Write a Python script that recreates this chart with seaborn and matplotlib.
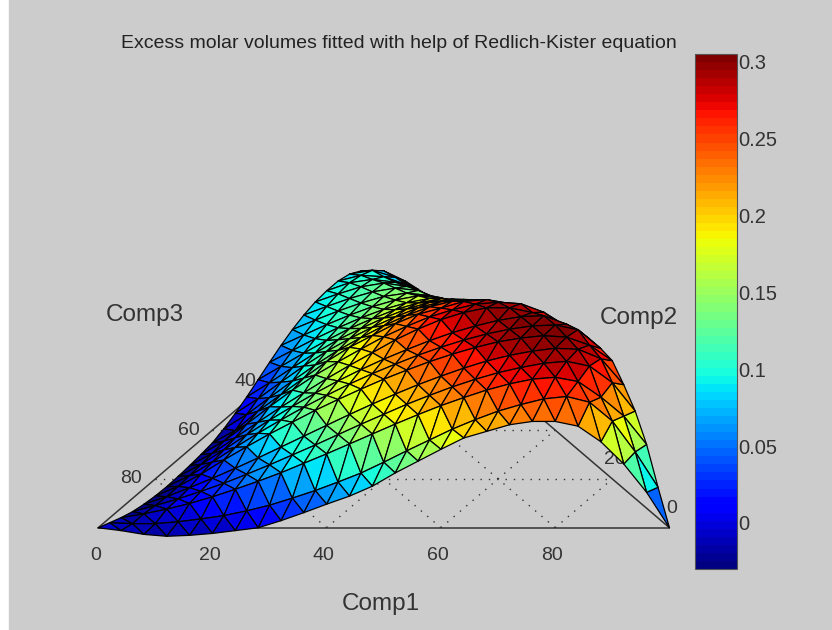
import numpy as np
import seaborn as sns
import matplotlib
matplotlib.use("Agg")
import matplotlib.pyplot as plt
from matplotlib.colors import Normalize
from matplotlib.cm import ScalarMappable
from matplotlib.patches import Rectangle
from matplotlib.tri import Triangulation
from mpl_toolkits.mplot3d import proj3d

# excess molar volume at each mesh node, one row per 4 % of Comp2,
# running along Comp1 from 0 in 4 % steps
rows = [
    [0, -.006, -.014, -.018, -.016, -.012, -.006, 0, .015, .032, .05, .067, .088, .116, .141, .166, .19, .204, .218, .225, .225, .215, .182, .135, .075, 0],
    [-.01, -.012, -.012, -.008, -.002, .005, .015, .027, .042, .058, .076, .095, .118, .142, .165, .188, .208, .226, .24, .252, .257, .245, .205, .14, .065],
    [-.02, -.012, -.002, .01, .024, .04, .057, .075, .095, .115, .136, .157, .178, .198, .217, .234, .25, .263, .273, .277, .268, .235, .195, .135],
    [-.028, -.015, -.001, .015, .032, .051, .071, .092, .113, .135, .157, .178, .199, .218, .236, .252, .266, .277, .286, .29, .28, .245, .185],
    [-.033, -.017, .002, .022, .043, .065, .088, .111, .134, .157, .179, .2, .22, .238, .255, .27, .282, .291, .297, .295, .275, .22],
    [-.036, -.016, .01, .04, .068, .095, .12, .145, .168, .19, .211, .23, .248, .264, .278, .29, .298, .303, .3, .283, .25],
    [-.037, -.014, .015, .046, .076, .104, .131, .156, .18, .202, .222, .241, .258, .273, .286, .296, .303, .305, .295, .255],
    [-.036, -.011, .02, .052, .083, .112, .14, .166, .19, .212, .232, .251, .268, .282, .294, .302, .304, .286, .255],
    [-.034, -.008, .025, .058, .09, .12, .15, .178, .205, .232, .255, .275, .29, .3, .3, .29, .272, .25],
    [-.031, -.003, .033, .07, .105, .137, .165, .192, .218, .24, .26, .275, .287, .291, .288, .27, .24],
    [-.027, -.001, .04, .075, .11, .145, .175, .2, .225, .245, .258, .272, .276, .268, .25, .225],
    [-.018, .012, .048, .083, .117, .148, .175, .2, .222, .24, .252, .255, .248, .23, .205],
    [-.006, .025, .06, .094, .125, .152, .176, .198, .217, .23, .235, .228, .21, .185],
    [.008, .038, .07, .101, .129, .153, .175, .194, .208, .215, .208, .19, .165],
    [.024, .052, .08, .107, .132, .153, .172, .186, .195, .19, .172, .145],
    [.04, .065, .09, .113, .134, .152, .166, .175, .17, .152, .125],
    [.055, .077, .099, .119, .137, .151, .16, .156, .137, .108],
    [.068, .088, .107, .124, .138, .145, .14, .122, .092],
    [.078, .096, .113, .127, .135, .13, .11, .08],
    [.085, .102, .117, .125, .118, .098, .07],
    [.088, .105, .112, .106, .087, .06],
    [.088, .1, .097, .08, .055],
    [.082, .09, .075, .05],
    [.068, .068, .045],
    [.04, .03],
    [0],
]
grid_levels = [20, 40, 60, 80]
comp1_ticks = ["0", "20", "40", "60", "80"]
comp2_ticks = ["0", "20"]
comp3_ticks = ["80", "60", "40"]
cbar_ticks = [0, 0.05, 0.1, 0.15, 0.2, 0.25, 0.3]
title = "Excess molar volumes fitted with help of Redlich-Kister equation"

sns.set_theme(style="white")
plt.rcParams["font.family"] = ["Liberation Sans", "DejaVu Sans"]
grey = "#cccccc"
ink = "#333333"
jet = plt.get_cmap("jet", 64)
zmin, zmax = -0.03, 0.305

# ternary nodes -> plane coordinates
n = len(rows) - 1
c1, c2, z, idx = [], [], [], {}
for j, row in enumerate(rows):
    for i, val in enumerate(row):
        idx[(i, j)] = len(z)
        c1.append(i * 100 / n)
        c2.append(j * 100 / n)
        z.append(val)
c1, c2, z = np.array(c1), np.array(c2), np.array(z)
xs = c1 + c2 / 2

tris = []
for j in range(n):
    for i in range(n - j):
        tris.append([idx[(i, j)], idx[(i + 1, j)], idx[(i, j + 1)]])
        if i < n - j - 1:
            tris.append([idx[(i + 1, j)], idx[(i + 1, j + 1)], idx[(i, j + 1)]])

fig = plt.figure(figsize=(8.32, 6.3), dpi=100, facecolor="white")
fig.add_artist(Rectangle((9 / 832, 0), 823 / 832, 1, transform=fig.transFigure, color=grey, zorder=-5))

ax = fig.add_axes([-0.0522, -0.2186, 1.0, 1.32], projection="3d", computed_zorder=False)
ax.patch.set_alpha(0)
ax.set_proj_type("ortho")
ax.view_init(elev=30, azim=-90)
ax.set_box_aspect((1, 0.855, 0.32), zoom=0.903)
ax.set_xlim(0, 100)
ax.set_ylim(0, 100)
ax.set_zlim(zmin, zmax)
ax.set_axis_off()


def tern(a, b):
    # a = Comp1, b = Comp2, both in percent
    return a + b / 2, b


def floor_label(x, y, lab):
    # tick label at a spot on the floor of the box, sits under the surface
    x2, y2, _ = proj3d.proj_transform(x, y, 0, ax.get_proj())
    ax.annotate(lab, (x2, y2), ha="center", va="center", fontsize=14, color=ink, zorder=1, annotation_clip=False)


# triangle outline and dotted grid on the floor
for a, b, c, d in [(0, 0, 100, 0), (0, 0, 0, 100), (100, 0, 0, 100)]:
    p, q = tern(a, b), tern(c, d)
    ax.plot([p[0], q[0]], [p[1], q[1]], [0, 0], color=ink, lw=1.1, zorder=1)
for g in grid_levels:
    for (a, b), (c, d) in [((g, 0), (g, 100 - g)), ((0, g), (100 - g, g)), ((g, 0), (0, g))]:
        p, q = tern(a, b), tern(c, d)
        ax.plot([p[0], q[0]], [p[1], q[1]], [0, 0], color=ink, lw=1, ls=(0, (1, 5)), zorder=1)

for lab in comp3_ticks:
    floor_label((100 - int(lab)) / 2 - 4.2, 100 - int(lab), lab)
for lab in comp2_ticks:
    px, py = tern(100 - int(lab), int(lab))
    floor_label(px + 0.4, py + 8, lab)
for lab in comp1_ticks:
    floor_label(int(lab) - 0.5, -11.5, lab)

surf = ax.plot_trisurf(Triangulation(xs, c2, np.array(tris)), z, cmap=jet, vmin=zmin, vmax=zmax,
                       edgecolor="black", linewidth=0.9, shade=False, antialiased=True, zorder=3)

fig.text(398.5 / 832, 1 - 43 / 630, title, ha="center", va="center", fontsize=14, color="#222222")
fig.text(381 / 832, 1 - 604 / 630, "Comp1", ha="center", va="center", fontsize=17.5, color=ink)
fig.text(639 / 832, 1 - 318 / 630, "Comp2", ha="center", va="center", fontsize=17.5, color=ink)
fig.text(145 / 832, 1 - 315 / 630, "Comp3", ha="center", va="center", fontsize=17.5, color=ink)

cax = fig.add_axes([695 / 832, 1 - 569 / 630, 42 / 832, 515 / 630])
cb = fig.colorbar(ScalarMappable(Normalize(zmin, zmax), jet), cax=cax, ticks=cbar_ticks)
cb.ax.set_yticklabels(["0", "0.05", "0.1", "0.15", "0.2", "0.25", "0.3"])
cb.ax.tick_params(direction="in", length=4, width=1, left=True, right=True, labelsize=14.5, pad=1, labelcolor=ink)
cb.outline.set_edgecolor("#555555")
cb.outline.set_linewidth(0.8)

fig.savefig("out.png", dpi=100, facecolor=fig.get_facecolor())
